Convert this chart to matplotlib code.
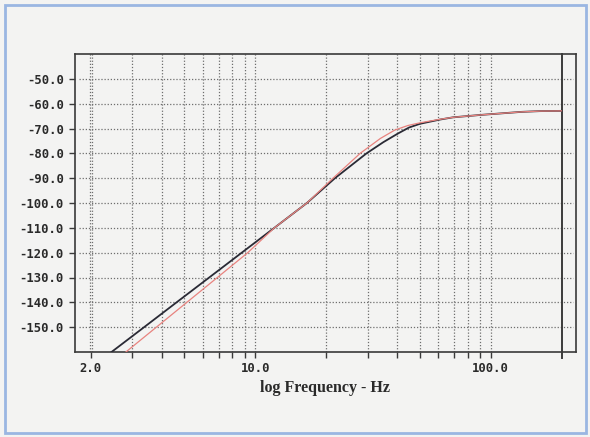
import matplotlib
matplotlib.use("Agg")
import matplotlib.pyplot as plt
from matplotlib.patches import Rectangle

# measured response (black) and fitted model (red), level in dB vs frequency in Hz
meas_freq = [2.45, 3.37, 4.63, 6.37, 8.76, 12.05, 16.57, 21.8, 29.7, 35.0, 40.4, 45.0,
             50.1, 60.9, 69.2, 91.6, 115.0, 135.4, 162.0, 200.0]
meas_db = [-160.0, -150.0, -140.0, -130.0, -120.0, -110.0, -100.0, -90.0, -80.0, -75.5,
           -72.0, -69.6, -68.1, -66.4, -65.5, -64.5, -63.8, -63.3, -63.0, -62.9]

model_freq = [2.82, 3.80, 5.12, 6.90, 9.29, 12.05, 16.57, 21.4, 27.9, 34.0, 39.2, 44.5,
              50.1, 60.9, 69.2, 91.6, 115.0, 135.4, 162.0, 200.0]
model_db = [-160.0, -150.0, -140.0, -130.0, -120.0, -110.0, -100.0, -90.0, -80.0, -74.0,
            -70.6, -68.8, -67.7, -66.3, -65.5, -64.5, -63.8, -63.3, -63.0, -62.9]

x_grid = [3, 4, 5, 6, 7, 8, 9, 10, 20, 30, 40, 50, 60, 70, 80, 90, 100]
x_ticks = [2] + x_grid
x_labels = {2: "2.0", 10: "10.0", 100: "100.0"}
y_ticks = [-50, -60, -70, -80, -90, -100, -110, -120, -130, -140, -150]
x_end = 200

paper = "#f3f3f2"
ink = "#3a3a3a"
grid_col = "#6e6e6e"
dots = (0, (1, 1.5))

W, H = 590, 437
fig = plt.figure(figsize=(W / 100, H / 100), dpi=100, facecolor=paper)

# page frame
fig.patches.append(Rectangle((5 / W, 4 / H), 581 / W, 428 / H, transform=fig.transFigure,
                             fill=False, edgecolor="#9ab6e2", linewidth=2.0))

left, right, top, bottom = 75, 576, 54, 352
ax = fig.add_axes([left / W, 1 - bottom / H, (right - left) / W, (bottom - top) / H])
ax.set_facecolor(paper)
ax.set_xscale("log")
ax.set_xlim(1.714, 230.4)
ax.set_ylim(-160, -40)

# dotted grid; the first decade line is drawn doubled
for xv in x_grid:
    ax.axvline(xv, color=grid_col, linestyle=dots, linewidth=0.9, zorder=1)
for xv in (1.982, 2.02):
    ax.axvline(xv, color=grid_col, linestyle=dots, linewidth=0.9, zorder=1)
for yv in y_ticks:
    ax.axhline(yv, xmin=4 / (right - left), xmax=1 - 3 / (right - left),
               color=grid_col, linestyle=dots, linewidth=0.9, zorder=1)

# end-of-range marker
ax.axvline(x_end, ymin=-0.02, ymax=1.0, color=ink, linewidth=1.4, clip_on=False, zorder=3)

ax.plot(meas_freq, meas_db, color="#2a2a35", linewidth=1.3, zorder=4)
ax.plot(model_freq, model_db, color="#e8837f", linewidth=0.9, zorder=5)

ax.xaxis.set_minor_locator(matplotlib.ticker.NullLocator())
ax.set_xticks(x_ticks)
ax.set_xticklabels([x_labels.get(v, "") for v in x_ticks])
ax.set_yticks(y_ticks)
ax.set_yticklabels([f"{v:.1f}" for v in y_ticks])

for lab in ax.get_xticklabels() + ax.get_yticklabels():
    lab.set_fontfamily("DejaVu Sans Mono")
    lab.set_fontweight("bold")
    lab.set_fontsize(8.8)
    lab.set_color("#2a2a2a")
ax.tick_params(axis="both", direction="out", length=4, width=1.0, color=ink, pad=4)
ax.tick_params(axis="x", pad=3)

for sp in ax.spines.values():
    sp.set_color(ink)
    sp.set_linewidth(1.2)

ax.set_xlabel("log Frequency - Hz", family="Liberation Serif", weight="bold",
              size=11.5, color="#2a2a2a", labelpad=4)

fig.savefig("out.png", dpi=100, facecolor=paper)
